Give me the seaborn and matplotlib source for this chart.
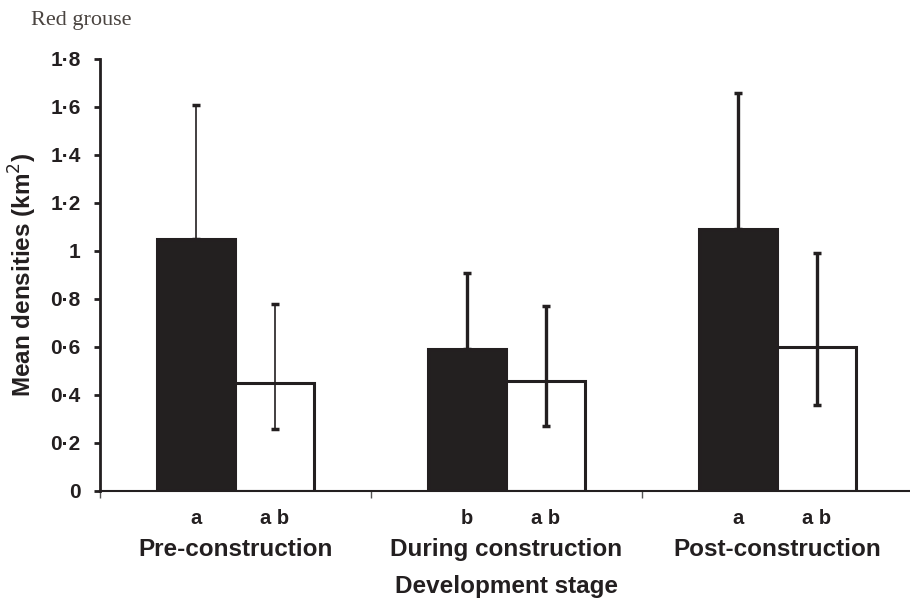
import matplotlib
matplotlib.use("Agg")
import matplotlib.pyplot as plt
import seaborn as sns
import pandas as pd

# Red grouse densities by development stage
stages = ["Pre-construction", "During construction", "Post-construction"]
groups = ["Wind farm", "Reference"]
wind_mean = [1.05, 0.59, 1.09]
wind_upper = [1.61, 0.91, 1.66]
ref_mean = [0.45, 0.46, 0.60]
ref_upper = [0.78, 0.77, 0.99]
ref_lower = [0.26, 0.27, 0.36]
letters_wind = ["a", "b", "a"]
letters_ref = ["a b", "a b", "a b"]
yticks = [0, 0.2, 0.4, 0.6, 0.8, 1.0, 1.2, 1.4, 1.6, 1.8]
ytick_labels = ["0", "0\u00b72", "0\u00b74", "0\u00b76", "0\u00b78", "1", "1\u00b72", "1\u00b74", "1\u00b76", "1\u00b78"]

sns.set_theme(style="white")
plt.rcParams["font.family"] = ["Liberation Sans", "DejaVu Sans"]

df = pd.DataFrame({
    "stage": stages * 2,
    "group": [groups[0]] * 3 + [groups[1]] * 3,
    "density": wind_mean + ref_mean,
})

dark = "#231f20"
fig = plt.figure(figsize=(9.10, 6.02), dpi=100)
ax = fig.add_axes([100 / 910, 1 - 491 / 602, 810 / 910, (491 - 59) / 602])

sns.barplot(data=df, x="stage", y="density", hue="group", order=stages,
            hue_order=groups, palette={groups[0]: dark, groups[1]: "white"},
            width=0.58, gap=0, edgecolor=dark, linewidth=2.2,
            errorbar=None, legend=False, ax=ax)

# error bars: one-sided on filled bars, two-sided on open bars
n = len(stages)
patches = sorted(ax.patches, key=lambda p: p.get_x())
wind_patches = [p for i, p in enumerate(patches) if i % 2 == 0]
ref_patches = [p for i, p in enumerate(patches) if i % 2 == 1]
err_lw = [1.2, 2.4, 2.4]
trans = ax.get_xaxis_transform()
for i in range(n):
    xw = wind_patches[i].get_x() + wind_patches[i].get_width() / 2
    xr = ref_patches[i].get_x() + ref_patches[i].get_width() / 2
    ax.errorbar([xw], [wind_mean[i]], yerr=[[0], [wind_upper[i] - wind_mean[i]]],
                fmt="none", ecolor=dark, elinewidth=err_lw[i], capsize=3,
                capthick=2.5, zorder=3)
    ax.errorbar([xr], [ref_mean[i]],
                yerr=[[ref_mean[i] - ref_lower[i]], [ref_upper[i] - ref_mean[i]]],
                fmt="none", ecolor=dark, elinewidth=err_lw[i], capsize=3,
                capthick=2.5, zorder=3)
    ax.text(xw, -0.063, letters_wind[i], transform=trans, ha="center", va="center",
            fontsize=14.5, fontweight="bold", color=dark)
    ax.text(xr, -0.063, letters_ref[i], transform=trans, ha="center", va="center",
            fontsize=14.5, fontweight="bold", color=dark)
    ax.text(i, -0.136, stages[i], transform=trans, ha="center", va="center",
            fontsize=17.5, fontweight="bold", color=dark)

ax.text(1, -0.22, "Development stage", transform=trans, ha="center", va="center",
        fontsize=17.5, fontweight="bold", color=dark)

ax.set_xlim(-0.5, 2.489)
ax.set_ylim(0, 1.8)
ax.set_xticks([-0.5, 0.5, 1.5])
ax.set_xticklabels([])
ax.set_yticks(yticks)
ax.set_yticklabels(ytick_labels, fontsize=15, fontweight="bold", color=dark)
ax.tick_params(axis="y", direction="out", length=4, width=2, color=dark, pad=10, left=True)
ax.tick_params(axis="x", direction="out", length=5, width=1, color="#555555", bottom=True)
for side in ["top", "right"]:
    ax.spines[side].set_visible(False)
ax.spines["left"].set_color(dark)
ax.spines["left"].set_linewidth(2)
ax.spines["bottom"].set_color(dark)
ax.spines["bottom"].set_linewidth(1.5)
ax.set_xlabel("")
ax.set_ylabel("Mean densities (km$^{2}$)", fontsize=17.5, fontweight="bold", color=dark,
              labelpad=8)

fig.text(31 / 910, 1 - 21 / 602, "Red grouse", ha="left", va="center",
         fontsize=16, color="#4a4440", family=["Liberation Serif", "DejaVu Serif"])

fig.savefig("out.png", dpi=100)
